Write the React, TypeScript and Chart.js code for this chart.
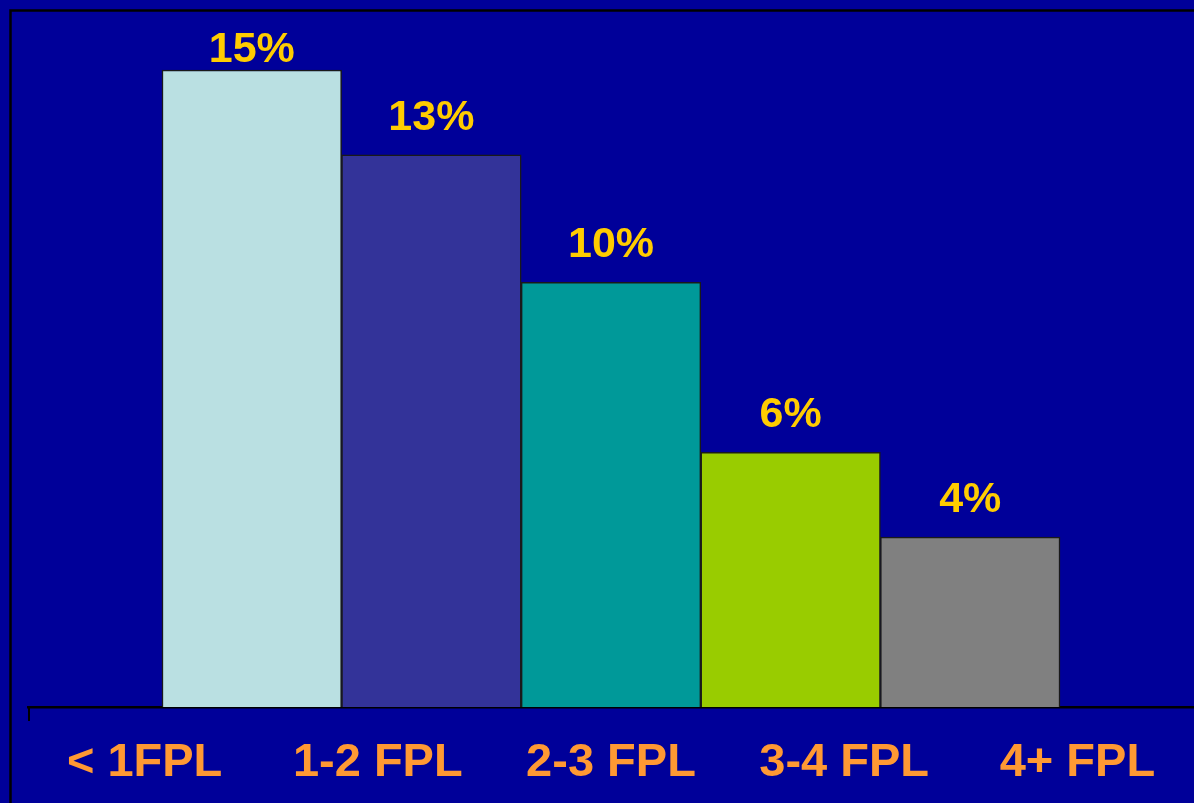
import React, { useEffect, useRef } from "react";
import { Chart, registerables } from "chart.js";

Chart.register(...registerables);

const categories = ["< 1FPL", "1-2 FPL", "2-3 FPL", "3-4 FPL", "4+ FPL"];
const values = [15, 13, 10, 6, 4];
const barColors = ["#BAE0E2", "#333399", "#009999", "#99CC00", "#808080"];

const FONT = "'Liberation Sans', Arial, sans-serif";
const BG = "#000099";

const decorPlugin = {
  id: "decor",
  beforeDraw(chart: any) {
    const { ctx, width, height, chartArea } = chart;
    ctx.save();
    ctx.fillStyle = BG;
    ctx.fillRect(0, 0, width, height);
    ctx.strokeStyle = "#000000";
    ctx.lineWidth = 2.5;
    ctx.beginPath();
    ctx.moveTo(width + 5, 10.5);
    ctx.lineTo(10.5, 10.5);
    ctx.lineTo(10.5, height + 5);
    ctx.stroke();
    ctx.lineWidth = 2;
    ctx.beginPath();
    ctx.moveTo(chartArea.left + 1, chartArea.bottom);
    ctx.lineTo(chartArea.left + 1, chartArea.bottom + 14);
    ctx.stroke();
    ctx.restore();
  },
  afterDatasetsDraw(chart: any) {
    const { ctx, chartArea } = chart;
    const meta = chart.getDatasetMeta(0);
    ctx.save();
    ctx.fillStyle = "#FFCC00";
    ctx.font = `bold 43px ${FONT}`;
    ctx.textAlign = "center";
    ctx.textBaseline = "alphabetic";
    meta.data.forEach((bar: any, i: number) => {
      const y = Math.max(bar.y - 25, chartArea.top + 34);
      ctx.fillText(`${values[i]}%`, bar.x, y);
    });
    ctx.restore();
  },
};

export default function App() {
  const ref = useRef<HTMLCanvasElement>(null);
  useEffect(() => {
    if (!ref.current) return;
    const chart = new Chart(ref.current, {
      type: "bar",
      data: {
        datasets: [
          {
            data: values.map((v, i) => ({ x: i, y: v })),
            backgroundColor: barColors,
            borderColor: "#1a1a1a",
            borderWidth: 1.5,
            barPercentage: 1,
            categoryPercentage: 1,
            xAxisID: "x",
          },
        ],
      },
      options: {
        responsive: false,
        animation: false,
        layout: { padding: { left: 28, right: 0, top: 27.5, bottom: -16 } },
        plugins: { legend: { display: false }, tooltip: { enabled: false } },
        scales: {
          x: {
            type: "linear",
            position: "bottom",
            offset: false,
            min: -1.246,
            max: 5.246,
            grid: { display: false, drawTicks: false, tickLength: 0, offset: false },
            border: { display: true, color: "#000000", width: 2.5 },
            ticks: { display: false },
          },
          x2: {
            type: "category",
            position: "bottom",
            labels: categories,
            offset: true,
            grid: { display: false, drawTicks: false, tickLength: 0 },
            border: { display: false },
            ticks: {
              color: "#FF9933",
              font: { family: FONT, size: 47, weight: "bold", lineHeight: 1.7 },
              padding: 16,
              maxRotation: 0,
              autoSkip: false,
            },
          },
          y: {
            display: false,
            min: 0,
            max: 16,
          },
        },
      },
      plugins: [decorPlugin],
    } as any);
    return () => chart.destroy();
  }, []);
  return (
    <div style={{ position: "fixed", left: 0, top: 0, width: 1194, height: 803, background: BG }}>
      <canvas ref={ref} width={1194} height={803} style={{ display: "block" }} />
    </div>
  );
}
